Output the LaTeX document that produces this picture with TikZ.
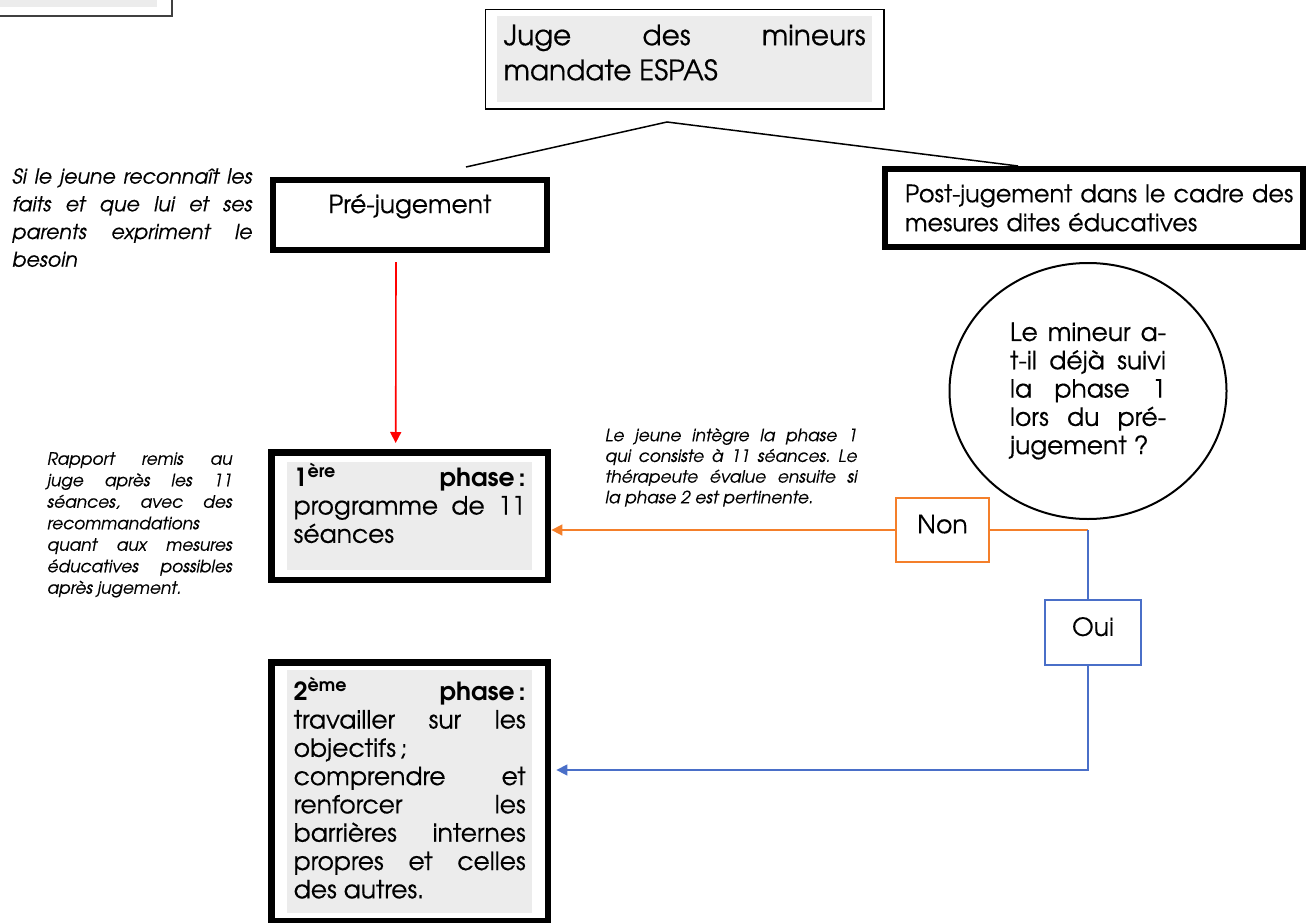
\documentclass[tikz,border=0pt]{standalone}
\usepackage{fontspec}
\setmainfont{texgyreadventor}[Extension=.otf, UprightFont=*-regular, BoldFont=*-bold, ItalicFont=*-italic, BoldItalicFont=*-bolditalic, UprightFeatures={FakeBold=0.4}, ItalicFeatures={FakeBold=0.4}]
\usetikzlibrary{arrows.meta,positioning,shapes,fit}

\definecolor{boxgray}{HTML}{ECECEC}
\definecolor{nonorange}{HTML}{F47F2A}
\definecolor{ouiblue}{HTML}{4A6FC8}
\newcommand{\bodyfont}{\fontsize{25}{28.3}\selectfont}
\newcommand{\notefont}{\fontsize{17}{21.5}\selectfont\itshape}

\begin{document}
\frenchspacing
\begin{tikzpicture}[
x=1pt, y=-1pt,
stage/.style={rectangle, draw, line width=6pt, font=\bodyfont},
graybox/.style={rectangle, fill=boxgray, anchor=north west, inner xsep=6.5pt, inner ysep=0pt, text width=232pt, align=justify, font=\bodyfont},
thickframe/.style={rectangle, draw, line width=6.5pt},
note/.style={anchor=north west, inner sep=0pt, align=justify, font=\notefont},
answer/.style={rectangle, draw, line width=1.8pt, text depth=12pt, font=\bodyfont},
arrow/.style={line width=1.6pt, -{Triangle[width=11pt, length=11pt]}}
]
\useasboundingbox (0,0) rectangle (1306,923);
\clip (0,0) rectangle (1306,923);

% box cut off at the top left
\fill[boxgray] (-20,-20) rectangle (157,7);
\draw[line width=2pt, black!75] (-20,-20) rectangle (172,16);

% Judge
\node[graybox, text width=362pt, font=\fontsize{28}{35}\selectfont, text height=29pt, text depth=57pt] (juge) at (497,16) {Juge des mineurs\linebreak mandate ESPAS};
\node[thickframe, line width=1.5pt, fit=(juge), inner xsep=11.5pt, inner ysep=6.5pt] (jugeframe) {};

% Two routes
\node[stage, minimum width=274pt, minimum height=70pt, text depth=23pt] (pre) at (410,215) {Pré-jugement};
\node[stage, minimum width=418pt, minimum height=78pt, text width=378pt, align=left, font=\fontsize{24}{29}\selectfont] (post) at (1094,208) {\mbox{Post-jugement dans le cadre des}\\mesures dites éducatives};

\coordinate (split) at (667,122);
\coordinate (preend) at (466,167);
\coordinate (postend) at (1018,166);
\draw[line width=1.5pt] (preend) -- (split) -- (postend);

\node[note, text width=240pt, font=\fontsize{20.5}{27.7}\selectfont\itshape] (condition) at (12,168) {Si le jeune reconnaît les\linebreak faits et que lui et ses\linebreak parents expriment le\linebreak besoin};

% Phases
\node[graybox, text height=24pt, text depth=84pt] (phaseone) at (287,462) {\textbf{1\textsuperscript{ère}} \textbf{phase\,:}\linebreak programme de 11\linebreak séances};
\node[thickframe, fit=(phaseone), inner xsep=15.75pt, inner ysep=9.75pt] (phaseoneframe) {};
\node[graybox, text height=30pt, text depth=213pt] (phasetwo) at (287,670) {\textbf{2\textsuperscript{ème}} \textbf{phase\,:}\linebreak travailler sur les\linebreak objectifs\,;\\comprendre et\linebreak renforcer les\linebreak barrières internes\linebreak propres et celles\linebreak des autres.};
\node[thickframe, fit=(phasetwo), inner xsep=15.75pt, inner ysep=7.5pt] (phasetwoframe) {};

\draw[arrow, red] ([xshift=-14pt, yshift=-9pt]pre.south) -- ([xshift=-14pt, yshift=6pt]phaseoneframe.north);

\node[note, text width=185pt] (rapport) at (47,452) {Rapport remis au\linebreak juge après les 11\linebreak séances, avec des\linebreak recommandations\\quant aux mesures\linebreak éducatives possibles\linebreak après jugement.};

% Question
\node[ellipse, draw, line width=2pt, minimum width=277pt, minimum height=256pt, text width=156pt, align=justify, font=\bodyfont] (question) at (1088,391) {Le mineur a-\linebreak t-il déjà suivi\linebreak la phase 1\linebreak lors du pré-\linebreak jugement ?};

\node[note, text width=252pt, font=\fontsize{17}{20.7}\selectfont\itshape] (integration) at (605,428) {Le jeune intègre la phase 1\linebreak qui consiste à 11 séances. Le\linebreak thérapeute évalue ensuite si\linebreak la phase 2 est pertinente.};

\node[answer, draw=nonorange, minimum width=93pt, minimum height=64pt] (non) at (942.5,530) {Non};
\node[answer, draw=ouiblue, line width=1.5pt, minimum width=96pt, minimum height=65pt] (oui) at (1093,632.5) {Oui};

\coordinate (corner) at (1088,530);
\coordinate (turn) at (1088,770);
\draw[nonorange, line width=1.8pt] (corner) -- (non.east);
\draw[arrow, nonorange] (non.west) -- (non.west -| phaseoneframe.east);
\draw[ouiblue, line width=1.5pt] (corner) -- (corner |- oui.north);
\draw[arrow, ouiblue, line width=1.5pt] (corner |- oui.south) -- (turn) -- ([xshift=5pt]turn -| phasetwoframe.east);

\end{tikzpicture}
\end{document}
